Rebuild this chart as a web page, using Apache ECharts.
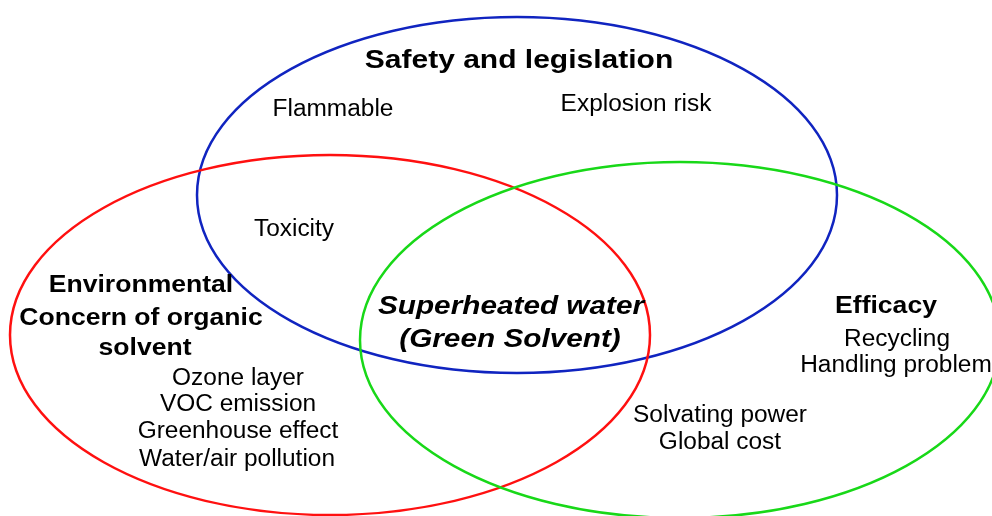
<!DOCTYPE html>
<html lang="en">
<head>
    <meta charset="UTF-8">
    <title>Superheated water Venn diagram</title>
    <script src="https://cdn.jsdelivr.net/npm/echarts@6/dist/echarts.min.js"></script>
    <style>
        body { margin: 0; background: #ffffff; }
        #chart { width: 992px; height: 516px; }
    </style>
</head>
<body>
    <div id="chart"></div>
    <script>
        // ellipses: [centre x, centre y, radius x, radius y] in picture units
        let ellipseNames = ['Safety and legislation', 'Environmental concern', 'Efficacy'];
        let ellipseData = [
            [517, 195, 320, 178],
            [330, 335, 320, 180],
            [680, 340, 320, 178]
        ];
        let ellipseColors = ['#1024c0', '#ff1010', '#18d818'];

        // text items: [x, y, text]
        let titleText = [
            [519, 61, 'Safety and legislation']
        ];
        let headingText = [
            [141, 286, 'Environmental'],
            [141, 319, 'Concern of organic'],
            [145, 349, 'solvent'],
            [886, 307, 'Efficacy']
        ];
        let centreText = [
            [511, 307, 'Superheated water'],
            [510, 340, '(Green Solvent)']
        ];
        let plainText = [
            [333, 110, 'Flammable'],
            [636, 105, 'Explosion risk'],
            [294, 230, 'Toxicity'],
            [238, 379, 'Ozone layer'],
            [238, 405, 'VOC emission'],
            [238, 432, 'Greenhouse effect'],
            [237, 460, 'Water/air pollution'],
            [897, 340, 'Recycling'],
            [896, 366, 'Handling problem'],
            [720, 416, 'Solvating power'],
            [720, 443, 'Global cost']
        ];

        let fontFamily = '"Liberation Sans", Arial, sans-serif';

        function textSeries(items, size, stretch, weight, style) {
            return {
                type: 'custom',
                coordinateSystem: 'cartesian2d',
                silent: true,
                z: 3,
                data: items.map(function (d) { return [d[0], d[1]]; }),
                renderItem: function (params, api) {
                    let p = api.coord([api.value(0), api.value(1)]);
                    return {
                        type: 'text',
                        x: p[0],
                        y: p[1],
                        scaleX: stretch,
                        style: {
                            text: items[params.dataIndex][2],
                            fontFamily: fontFamily,
                            fontSize: size,
                            fontWeight: weight,
                            fontStyle: style,
                            fill: '#000000',
                            align: 'center',
                            verticalAlign: 'middle'
                        }
                    };
                }
            };
        }

        let option = {
            backgroundColor: '#ffffff',
            animation: false,
            grid: { left: 0, right: 0, top: 0, bottom: 0 },
            xAxis: { type: 'value', min: 0, max: 992, show: false },
            yAxis: { type: 'value', min: 0, max: 516, inverse: true, show: false },
            series: [
                {
                    type: 'custom',
                    name: 'circles',
                    coordinateSystem: 'cartesian2d',
                    silent: true,
                    z: 2,
                    data: ellipseData,
                    renderItem: function (params, api) {
                        let c = api.coord([api.value(0), api.value(1)]);
                        let r = api.size([api.value(2), api.value(3)]);
                        return {
                            type: 'ellipse',
                            name: ellipseNames[params.dataIndex],
                            shape: { cx: c[0], cy: c[1], rx: r[0], ry: r[1] },
                            style: {
                                fill: 'none',
                                stroke: ellipseColors[params.dataIndex],
                                lineWidth: 2.5
                            }
                        };
                    }
                },
                textSeries(titleText, 25, 1.2, 'bold', 'normal'),
                textSeries(headingText, 23.5, 1.13, 'bold', 'normal'),
                textSeries(centreText, 25, 1.19, 'bold', 'italic'),
                textSeries(plainText, 23.5, 1.04, 'normal', 'normal')
            ]
        };

        let chart = echarts.init(document.getElementById('chart'));
        chart.setOption(option);
    </script>
</body>
</html>
